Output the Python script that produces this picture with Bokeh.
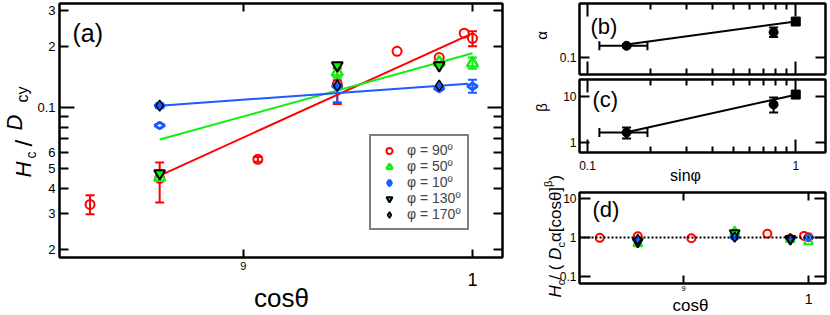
from math import pi
from bokeh.plotting import figure
from bokeh.layouts import row, column
from bokeh.models import (ColumnDataSource, Whisker, TeeHead, FixedTicker, LogAxis,
                          Label, Legend, LegendItem, Span, Range1d)
from bokeh.embed import file_html
from bokeh.resources import INLINE

FONT = "Liberation Sans"
RED = "#ff0000"
GREEN = "#11ee11"
BLUE = "#1a5cff"

# ---------------- panel (a) data ----------------
cos_90 = [0.8387, 0.866, 0.906, 0.9397, 0.9659, 0.9848, 0.9962, 1.0]
hc_90 = [0.0333, 0.0447, 0.0555, 0.130, 0.189, 0.176, 0.232, 0.219]
cos_50 = [0.866, 0.9397, 0.9848, 1.0]
hc_50 = [0.0452, 0.149, 0.167, 0.165]
cos_10 = [0.866, 0.866, 0.9397, 0.9848, 1.0]
hc_10 = [0.102, 0.0815, 0.127, 0.124, 0.127]
cos_130 = [0.866, 0.9397, 0.9848]
hc_130 = [0.0473, 0.161, 0.161]
cos_170 = [0.866, 0.9397, 0.9848]
hc_170 = [0.102, 0.128, 0.128]

err90_x = [0.8387, 0.866, 0.906, 0.9397, 1.0]
err90_lo = [0.0298, 0.0340, 0.0540, 0.104, 0.200]
err90_hi = [0.0369, 0.0536, 0.0570, 0.156, 0.237]
err50_x = [0.9397, 1.0]
err50_lo = [0.140, 0.155]
err50_hi = [0.158, 0.176]
err10_x = [0.866, 0.9397, 1.0]
err10_lo = [0.099, 0.106, 0.118]
err10_hi = [0.105, 0.136, 0.137]

fit90_x = [0.866, 0.9977]
fit90_y = [0.0462, 0.226]
fit50_x = [0.866, 1.0]
fit50_y = [0.0695, 0.185]
fit10_x = [0.866, 0.998]
fit10_y = [0.1019, 0.131]

a_yticks = [0.02, 0.03, 0.04, 0.05, 0.06, 0.1, 0.2, 0.3]
a_ylabels = ["2", "3", "4", "5", "6", "0.1", "2", "3"]
a_ydecade = [0.1]
a_yminor = [0.02, 0.03, 0.04, 0.05, 0.06, 0.07, 0.08, 0.09, 0.2, 0.3]
cos_ticks = [0.9, 1.0]
cos_labels = ["9", "1"]

legend_labels = ["φ = 90º", "φ = 50º", "φ = 10º", "φ = 130º", "φ = 170º"]

# ---------------- panels (b), (c) data ----------------
sinphi = [0.154, 0.783, 1.0]
alpha = [0.131, 0.179, 0.229]
alpha_lo = [0.127, 0.160, 0.222]
alpha_hi = [0.135, 0.200, 0.236]
beta = [1.65, 6.7, 11.0]
beta_lo = [1.22, 4.49, 10.2]
beta_hi = [2.12, 9.5, 11.8]
sin_err_lo = [0.114]
sin_err_hi = [0.194]
bc_markers = ["circle", "circle", "square"]
fit_sin = [0.154, 1.0]
fit_alpha = [0.135, 0.229]
fit_beta = [1.67, 10.9]
sin_ticks = [0.1, 1.0]
sin_labels = ["0.1", "1"]
sin_minor = [0.2, 0.3, 0.4, 0.5, 0.6, 0.7, 0.8, 0.9]

# ---------------- panel (d) data ----------------
d90_x = [0.8387, 0.866, 0.906, 0.9397, 0.9659, 0.9848, 0.9962, 1.0]
d90_y = [0.98, 1.08, 0.96, 1.10, 1.25, 0.93, 1.10, 1.02]
d50_x = [0.866, 0.9397, 0.9848, 1.0]
d50_y = [0.70, 1.40, 0.90, 0.78]
d10_x = [0.866, 0.9397, 0.9848, 1.0]
d10_y = [0.88, 1.00, 0.95, 1.00]
d130_x = [0.866, 0.9397, 0.9848]
d130_y = [0.78, 1.30, 0.92]
d170_x = [0.866, 0.9397, 0.9848]
d170_y = [0.90, 1.02, 0.93]
d_yticks = [0.1, 1.0, 10.0]
d_ylabels = ["0.1", "1", "10"]
d_ref = 1.0

W = {'H': 722, 'D': 722, 'c': 500, 'y': 500, ' ': 278, '/': 278, '(': 333, ')': 333,
     '[': 278, ']': 278, 'o': 556, 's': 500, 'α': 578, 'θ': 556, 'β': 575}


def text_w(s, fs):
    return sum(W.get(ch, 556) for ch in s) * fs / 1000.0


def make_fig(w, h, xr, yr, bl, br, bt, bb):
    p = figure(width=w, height=h, x_axis_type="log", y_axis_type="log",
               x_axis_location=None, y_axis_location=None,
               x_range=Range1d(*xr), y_range=Range1d(*yr),
               output_backend="svg", toolbar_location=None,
               min_border_left=bl, min_border_right=br, min_border_top=bt, min_border_bottom=bb)
    p.xgrid.visible = False
    p.ygrid.visible = False
    p.outline_line_color = "black"
    p.outline_line_width = 2
    p.background_fill_color = "white"
    p.border_fill_color = "white"
    return p


def add_axis(p, side, ticks, labels=None, minor=None, tick_in=8, minor_in=5,
             font_size="13px", standoff=4, show_line=True, show_ticks=True):
    ax = LogAxis(ticker=FixedTicker(ticks=ticks, minor_ticks=minor or []),
                 major_tick_in=tick_in if show_ticks else 0, major_tick_out=0,
                 minor_tick_in=minor_in if show_ticks else 0, minor_tick_out=0,
                 major_tick_line_width=2, minor_tick_line_width=2,
                 axis_line_width=2, axis_line_color="black" if show_line else None,
                 major_tick_line_color="black" if show_ticks else None,
                 minor_tick_line_color="black" if show_ticks else None,
                 major_label_standoff=standoff, major_label_text_font=FONT,
                 major_label_text_color="black")
    if labels is None:
        ax.major_label_overrides = {t: "" for t in ticks}
        ax.major_label_text_font_size = "0px"
        ax.major_label_standoff = 0
    else:
        ax.major_label_overrides = {t: l for t, l in zip(ticks, labels)}
        ax.major_label_text_font_size = font_size
    p.add_layout(ax, side)
    return ax


def add_label(p, x, y, text, size, align="left", baseline="alphabetic", angle=0.0, italic=False):
    p.add_layout(Label(x=x, y=y, x_units="screen", y_units="screen", text=text,
                       text_font=FONT, text_font_size=size, text_align=align,
                       text_baseline=baseline, angle=angle, text_color="black",
                       text_font_style="italic" if italic else "normal"))


def whisker(p, base, lo, hi, color, dim="height", head=9):
    src = ColumnDataSource(dict(base=base, lower=lo, upper=hi))
    w = Whisker(source=src, base="base", lower="lower", upper="upper", dimension=dim,
                line_color=color, line_width=2,
                upper_head=TeeHead(size=head, line_color=color, line_width=2),
                lower_head=TeeHead(size=head, line_color=color, line_width=2))
    p.add_layout(w)


# ================= panel (a) =================
pa = make_fig(515, 315, (0.827, 1.0139), (0.01824, 0.325), 59, 13, 3, 58)
# ticks (decade tick longer), then a label-only axis stacked right next to it
add_axis(pa, "left", a_ydecade, None, a_yminor, tick_in=15, minor_in=9)
add_axis(pa, "left", a_yticks, a_ylabels, font_size="13px", standoff=4,
         show_line=False, show_ticks=False)
add_axis(pa, "right", a_ydecade, None, a_yminor, tick_in=15, minor_in=9)
add_axis(pa, "above", cos_ticks, None, tick_in=8)
add_axis(pa, "below", cos_ticks, [cos_labels[0], ""], tick_in=8, font_size="11px", standoff=4)
add_axis(pa, "below", [cos_ticks[1]], [cos_labels[1]], font_size="18px", standoff=0,
         show_line=False, show_ticks=False)

pa.line(fit90_x, fit90_y, line_color=RED, line_width=2)
pa.line(fit50_x, fit50_y, line_color=GREEN, line_width=2)
pa.line(fit10_x, fit10_y, line_color=BLUE, line_width=2)

whisker(pa, err90_x, err90_lo, err90_hi, RED)
whisker(pa, err50_x, err50_lo, err50_hi, GREEN)
whisker(pa, err10_x, err10_lo, err10_hi, BLUE)

r90 = pa.scatter(cos_90, hc_90, marker="circle", size=9, fill_color=None, line_color=RED, line_width=2)
r50 = pa.scatter(cos_50, hc_50, marker="triangle", size=11, fill_color=None, line_color=GREEN, line_width=2.5)
r10 = pa.scatter(cos_10, hc_10, marker="diamond", angle=pi / 2, size=10, fill_color=None,
                 line_color=BLUE, line_width=3)
r130 = pa.scatter(cos_130, hc_130, marker="inverted_triangle", size=11, fill_color=GREEN,
                  line_color="black", line_width=2)
r170 = pa.scatter(cos_170, hc_170, marker="diamond", size=11, fill_color=BLUE,
                  line_color="black", line_width=1.5)

leg = Legend(items=[LegendItem(label=l, renderers=[r]) for l, r in
                    zip(legend_labels, [r90, r50, r10, r130, r170])],
             location=(310, 27), padding=6, spacing=0, margin=0,
             glyph_width=24, glyph_height=15, label_height=15, label_standoff=6,
             label_text_font=FONT, label_text_font_size="14px",
             border_line_color="black", border_line_width=2,
             background_fill_color="white", background_fill_alpha=1.0)
pa.add_layout(leg)
add_label(pa, 13, 225, "(a)", "25px", baseline="middle")

# ================= panel (b) =================
pb = make_fig(315, 76, (0.0915, 1.39), (0.0676, 0.347), 64, 5, 3, 2)
add_axis(pb, "left", [0.1], ["0.1"], tick_in=10, font_size="12px", standoff=3)
add_axis(pb, "right", [0.1], None, tick_in=10)
add_axis(pb, "above", sin_ticks, None, sin_minor, tick_in=13, minor_in=6)
add_axis(pb, "below", sin_ticks, None, sin_minor, tick_in=13, minor_in=6)
pb.line(fit_sin, fit_alpha, line_color="black", line_width=2)
whisker(pb, sinphi, alpha_lo, alpha_hi, "black")
whisker(pb, [alpha[0]], sin_err_lo, sin_err_hi, "black", dim="width")
pb.scatter(sinphi, alpha, marker=bc_markers, size=9, fill_color="black", line_color="black")
add_label(pb, 11, 48, "(b)", "22px", baseline="middle")

# ================= panel (c) =================
pc = make_fig(315, 110, (0.0915, 1.39), (0.607, 23.4), 64, 5, 3, 34)
add_axis(pc, "left", [1.0, 10.0], ["1", "10"], tick_in=10, font_size="12px", standoff=3)
add_axis(pc, "right", [1.0, 10.0], None, tick_in=10)
add_axis(pc, "above", sin_ticks, None, sin_minor, tick_in=13, minor_in=6)
add_axis(pc, "below", sin_ticks, sin_labels, sin_minor, tick_in=13, minor_in=6,
         font_size="12px", standoff=8)
pc.line(fit_sin, fit_beta, line_color="black", line_width=2)
whisker(pc, sinphi, beta_lo, beta_hi, "black")
whisker(pc, [beta[0]], sin_err_lo, sin_err_hi, "black", dim="width")
pc.scatter(sinphi, beta, marker=bc_markers, size=9, fill_color="black", line_color="black")
add_label(pc, 13, 53, "(c)", "22px", baseline="middle")

# ================= panel (d) =================
pd_ = make_fig(315, 129, (0.8245, 1.0144), (0.066, 14.3), 64, 5, 6, 32)
add_axis(pd_, "left", d_yticks, d_ylabels, tick_in=11, font_size="12px", standoff=3)
add_axis(pd_, "right", d_yticks, None, tick_in=11)
add_axis(pd_, "above", cos_ticks, None, tick_in=8)
add_axis(pd_, "below", cos_ticks, [cos_labels[0], ""], tick_in=8, font_size="8px", standoff=2)
add_axis(pd_, "below", [cos_ticks[1]], [cos_labels[1]], font_size="14px", standoff=0,
         show_line=False, show_ticks=False)
pd_.add_layout(Span(location=d_ref, dimension="width", line_color="black", line_width=2,
                    line_dash="2 2"))
pd_.scatter(d90_x, d90_y, marker="circle", size=8, fill_color=None, line_color=RED, line_width=2)
pd_.scatter(d50_x, d50_y, marker="triangle", size=9, fill_color=None, line_color=GREEN, line_width=2)
pd_.scatter(d10_x, d10_y, marker="diamond", angle=pi / 2, size=9, fill_color=None,
            line_color=BLUE, line_width=2.5)
pd_.scatter(d130_x, d130_y, marker="inverted_triangle", size=10, fill_color=GREEN,
            line_color="black", line_width=2)
pd_.scatter(d170_x, d170_y, marker="diamond", size=10, fill_color=BLUE,
            line_color="black", line_width=1.5)
add_label(pd_, 13, 74, "(d)", "22px", baseline="middle")

# ================= transparent overlay for axis titles =================
ov = figure(width=830, height=315, x_range=Range1d(0, 830), y_range=Range1d(0, 315),
            x_axis_location=None, y_axis_location=None, output_backend="svg",
            toolbar_location=None, min_border=0, margin=(-315, 0, 0, 0))
ov.xgrid.visible = False
ov.ygrid.visible = False
ov.outline_line_color = None
ov.background_fill_alpha = 0
ov.border_fill_alpha = 0

H = 315


def T(X, Y, text, size, align="left", baseline="alphabetic", angle=0.0, italic=False):
    add_label(ov, X, H - Y, text, size, align, baseline, angle, italic)


# (a) titles
T(281, 297, "cosθ", "26px", align="center", baseline="middle")
T(23, 177, "H", "22px", angle=pi / 2, italic=True)
T(30, 158, "c", "14px", angle=pi / 2)
T(23, 146, "/", "24px", angle=pi / 2)
T(14, 130, "D", "22px", angle=pi / 2, italic=True)
T(22, 102, "cy", "16px", angle=pi / 2)
# (b), (c) titles
T(541, 35, "α", "15px", align="center", baseline="middle", angle=pi / 2)
T(541, 107, "β", "15px", align="center", baseline="middle", angle=pi / 2)
T(685, 175, "sinφ", "16px", align="center", baseline="middle")
# (d) titles
T(690, 305, "cosθ", "17px", align="center", baseline="middle")
yy = 297
for t, fs, it, sh in [("H", 17, True, 0), ("c", 11, False, 5), (" / (", 17, False, 0),
                      ("D", 17, True, 0), ("c", 11, False, 5), ("α[cosθ]", 17, False, 0),
                      ("β", 11, False, -8), (")", 17, False, 0)]:
    T(555 + sh, yy, t, "%dpx" % fs, angle=pi / 2, italic=it)
    yy -= text_w(t, fs)

layout = column(row(pa, column(pb, pc, pd_, spacing=0), spacing=0), ov, spacing=0)

open("out.html", "w").write(file_html(layout, INLINE))
